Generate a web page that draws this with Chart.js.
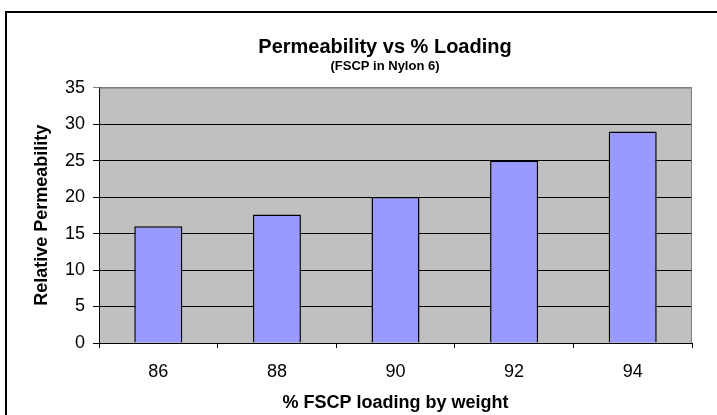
<!DOCTYPE html>
<html>
<head>
<meta charset="utf-8">
<script src="https://cdn.jsdelivr.net/npm/chart.js@4"></script>
<style>
  html, body { margin: 0; padding: 0; background: #fff; }
  canvas { display: block; }
</style>
</head>
<body>
<canvas id="barChart" width="717" height="415"></canvas>
<script>
// datos
var loadings = ['86', '88', '90', '92', '94'];
var permeability = [16, 17.6, 20, 25, 29];
var yTicks = [0, 5, 10, 15, 20, 25, 30, 35];

var titleText = 'Permeability vs % Loading';
var subtitleText = '(FSCP in Nylon 6)';
var xTitle = '% FSCP loading by weight';
var yTitle = 'Relative Permeability';

var fontFam = '"Liberation Sans", Arial, sans-serif';

// fondo gris del area de trazado, marco exterior y posicion del titulo
var marcoPlugin = {
    id: 'marco',
    afterLayout: function (chart) {
        chart.boxes.forEach(function (b) {
            if (!b.axis && b.options && typeof b.options.text === 'string') {
                b.left = 40;
                b.right = 730;
            }
        });
    },
    beforeDraw: function (chart) {
        var c = chart.ctx, a = chart.chartArea;
        c.save();
        c.fillStyle = '#C0C0C0';
        c.fillRect(a.left, a.top, a.right - a.left, a.bottom - a.top);
        c.strokeStyle = '#000';
        c.lineWidth = 2;
        c.beginPath();
        c.moveTo(6, chart.height + 2);
        c.lineTo(6, 12);
        c.lineTo(chart.width + 2, 12);
        c.stroke();
        c.restore();
    },
    afterDatasetsDraw: function (chart) {
        var c = chart.ctx, a = chart.chartArea;
        c.save();
        c.strokeStyle = '#808080';
        c.lineWidth = 1;
        c.beginPath();
        c.moveTo(a.left, a.top + 0.5);
        c.lineTo(a.right - 0.5, a.top + 0.5);
        c.lineTo(a.right - 0.5, a.bottom);
        c.stroke();
        c.restore();
    }
};

var ctx = document.getElementById('barChart').getContext('2d');
var barChart = new Chart(ctx, {
    type: 'bar',
    data: {
        labels: loadings,
        datasets: [{
            label: 'Relative Permeability',
            data: permeability,
            backgroundColor: '#9999FF',
            borderColor: '#000',
            borderWidth: 1.5,
            barPercentage: 0.405,
            categoryPercentage: 1
        }]
    },
    options: {
        responsive: false,
        animation: false,
        devicePixelRatio: 1,
        layout: { padding: { left: 0, top: 0, right: 25, bottom: 0 } },
        plugins: {
            legend: { display: false },
            tooltip: { enabled: false },
            title: {
                display: true,
                text: titleText,
                color: '#000',
                font: { family: fontFam, size: 20, weight: 'bold' },
                padding: { top: 35, bottom: 0 }
            },
            subtitle: {
                display: true,
                text: subtitleText,
                color: '#000',
                font: { family: fontFam, size: 13, weight: 'bold' },
                padding: { top: 0, bottom: 13 }
            }
        },
        scales: {
            x: {
                grid: {
                    offset: true,
                    drawOnChartArea: false,
                    drawTicks: true,
                    tickLength: 5,
                    color: '#000'
                },
                border: { color: '#000', width: 1 },
                ticks: {
                    color: '#000',
                    font: { family: fontFam, size: 18 },
                    padding: 13,
                    maxRotation: 0
                },
                title: {
                    display: true,
                    text: xTitle,
                    color: '#000',
                    font: { family: fontFam, size: 18, weight: 'bold' },
                    padding: { top: 0, bottom: 1 }
                },
                afterFit: function (scale) { scale.height = 72; }
            },
            y: {
                min: 0,
                max: 35,
                afterBuildTicks: function (scale) {
                    scale.ticks = yTicks.map(function (v) { return { value: v }; });
                },
                grid: {
                    color: function (c) { return c.tick && c.tick.value === 35 ? '#808080' : '#000'; },
                    lineWidth: 1,
                    tickLength: 6,
                    drawTicks: true
                },
                border: { color: '#000', width: 1 },
                ticks: {
                    color: '#000',
                    font: { family: fontFam, size: 18 },
                    padding: 8
                },
                title: {
                    display: true,
                    text: yTitle,
                    color: '#000',
                    font: { family: fontFam, size: 18, weight: 'bold' },
                    padding: { top: 31, bottom: 0 }
                },
                afterFit: function (scale) { scale.width = 99; }
            }
        }
    },
    plugins: [marcoPlugin]
});
</script>
</body>
</html>
